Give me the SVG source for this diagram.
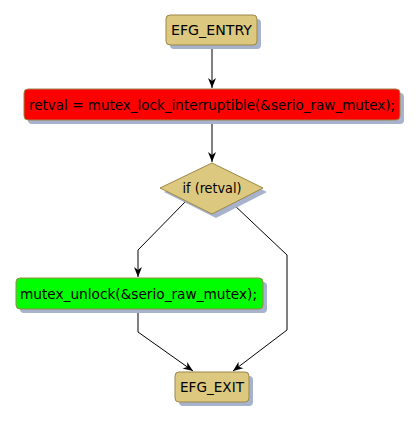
<svg xmlns="http://www.w3.org/2000/svg" width="419" height="421" viewBox="0 0 419 421">
<style>
.sh{fill:#a7b3cc}
.n{fill:#dcc97f;stroke:#9c8748;stroke-width:1}
.t{font-family:"DejaVu Sans",sans-serif;font-size:14px;fill:#000;text-anchor:middle;dominant-baseline:central}
.e{fill:none;stroke:#000;stroke-width:1}
</style>
<defs>
<marker id="ah" viewBox="0 0 10 10" refX="10" refY="5" markerWidth="10" markerHeight="10" markerUnits="userSpaceOnUse" orient="auto">
<path d="M0,1 L10,5 L0,9 L3,5 Z" fill="#000"/>
</marker>
</defs>
<rect width="419" height="421" fill="#fff"/>
<g id="connectors">
<path class="e" d="M212,45 L212,88" marker-end="url(#ah)"/>
<path class="e" d="M212,120 L212,162" marker-end="url(#ah)"/>
<path class="e" d="M186,201 L138,250 L138,277" marker-end="url(#ah)"/>
<path class="e" d="M232,203 L287,255 L287,330 L233,371" marker-end="url(#ah)"/>
<path class="e" d="M138,309 L138,332 L193,371" marker-end="url(#ah)"/>
</g>
<g id="entry">
<rect class="sh" x="170" y="19" width="91" height="30" rx="4"/>
<rect class="n" x="166" y="15" width="91" height="30" rx="4"/>
<text class="t" x="211.5" y="30" textLength="81" lengthAdjust="spacingAndGlyphs">EFG_ENTRY</text>
</g>
<g id="lock">
<rect class="sh" x="28" y="93" width="376" height="31" rx="4"/>
<rect x="24" y="89" width="376" height="31" rx="4" fill="#ff0000" stroke="#9c8748"/>
<text class="t" x="212" y="104.5" textLength="366" lengthAdjust="spacingAndGlyphs">retval = mutex_lock_interruptible(&amp;serio_raw_mutex);</text>
</g>
<g id="cond">
<polygon class="sh" points="216,167 267,192 216,218 164,192"/>
<polygon class="n" points="212,163 263,188 212,214 160,188"/>
<text class="t" x="212" y="188" textLength="59" lengthAdjust="spacingAndGlyphs">if (retval)</text>
</g>
<g id="unlock">
<rect class="sh" x="20" y="282" width="247" height="31" rx="4"/>
<rect x="16" y="278" width="247" height="31" rx="4" fill="#00ff00" stroke="#9c8748"/>
<text class="t" x="138.5" y="293.5" textLength="237" lengthAdjust="spacingAndGlyphs">mutex_unlock(&amp;serio_raw_mutex);</text>
</g>
<g id="exit">
<rect class="sh" x="179" y="376" width="74" height="30" rx="4"/>
<rect class="n" x="175" y="372" width="74" height="30" rx="4"/>
<text class="t" x="212" y="387" textLength="64" lengthAdjust="spacingAndGlyphs">EFG_EXIT</text>
</g>
</svg>
